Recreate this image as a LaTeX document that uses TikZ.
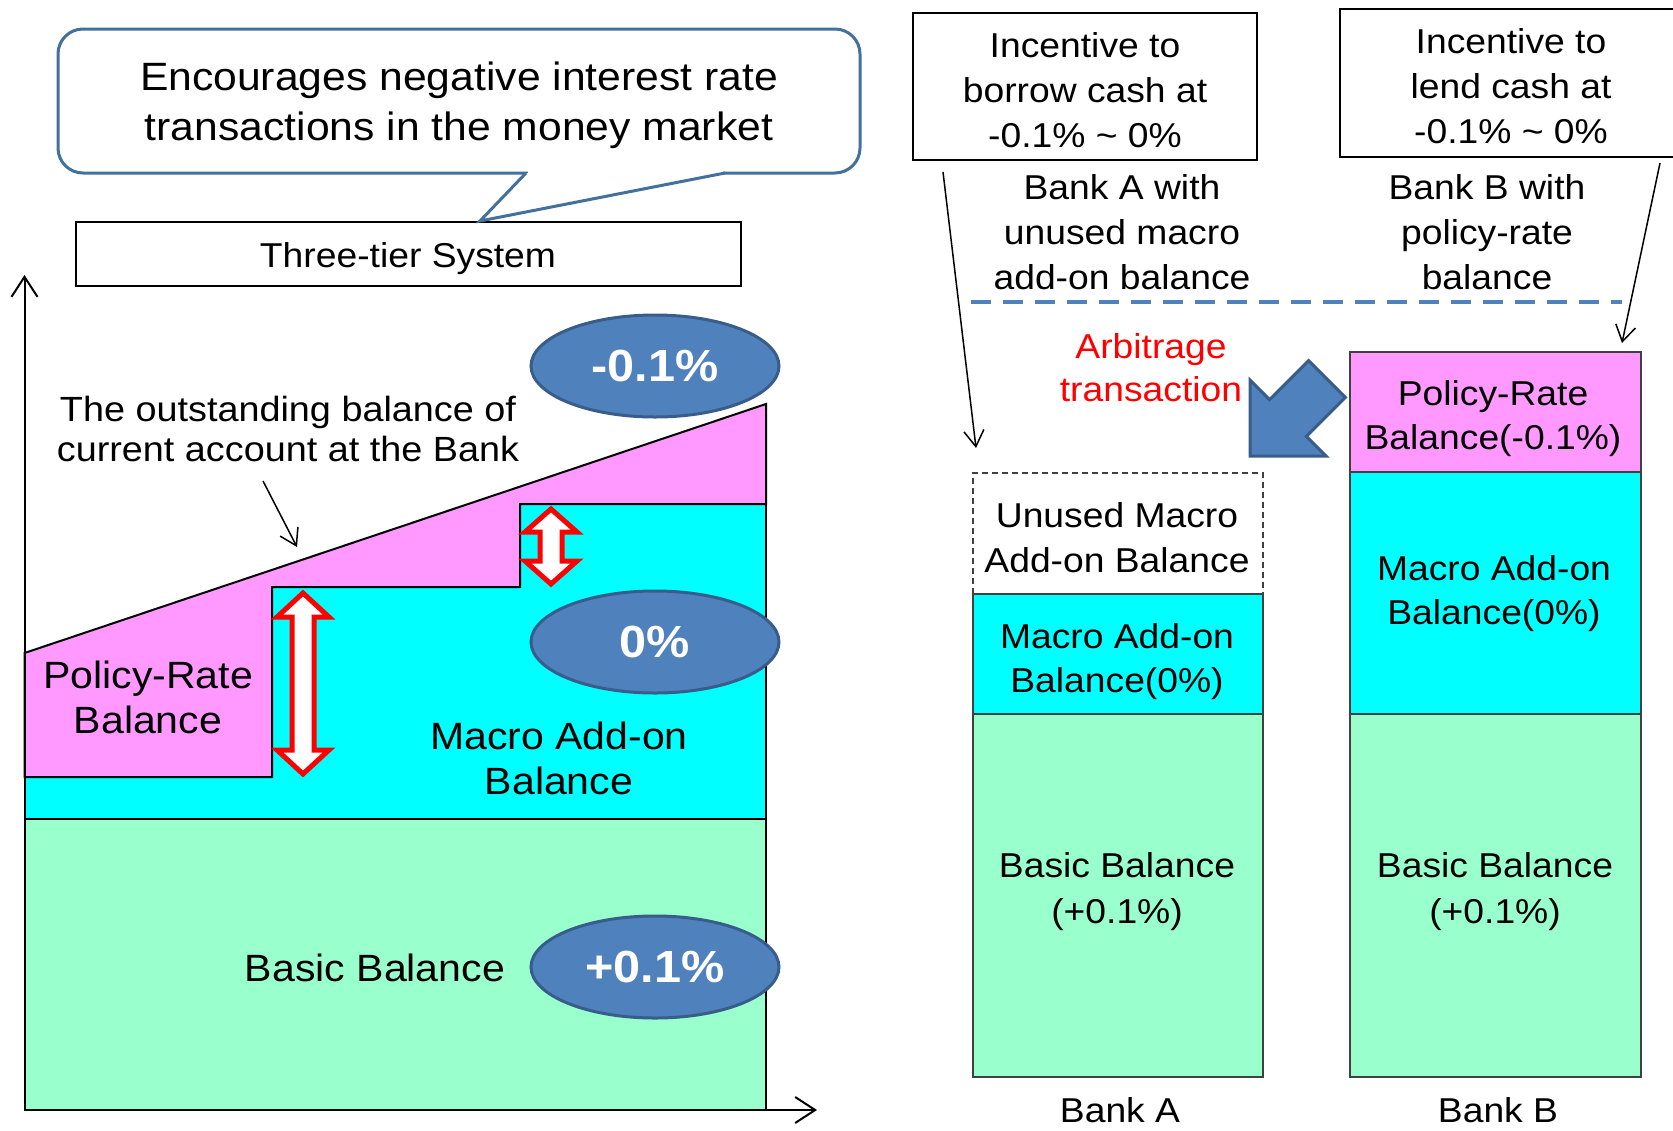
\documentclass[tikz,border=0pt]{standalone}
\usepackage{fontspec}
\setmainfont[FakeStretch=1.08]{Liberation Sans}
\usetikzlibrary{arrows.meta,shapes.geometric}
\definecolor{pinkfill}{HTML}{FF99FF}
\definecolor{cyanfill}{HTML}{00FFFF}
\definecolor{mintfill}{HTML}{99FFCC}
\definecolor{ellfill}{HTML}{4F81BD}
\definecolor{elldraw}{HTML}{385D8A}
\definecolor{callblue}{HTML}{41719C}
\definecolor{stackline}{HTML}{404040}
\newcommand\vdarrow[5]{%
  \draw[dblarrow] (#1,#2) -- ({#1+26},#3) -- ({#1+11},#3) -- ({#1+11},#4) -- ({#1+26},#4) -- (#1,#5)
    -- ({#1-26},#4) -- ({#1-11},#4) -- ({#1-11},#3) -- ({#1-26},#3) -- cycle;}
\begin{document}
\begin{tikzpicture}[x=1pt,y=-1pt,
  txt/.style={align=center, inner sep=0pt},
  fcall/.style={font=\fontsize{39.5}{50}\selectfont},
  fbig/.style={font=\fontsize{38}{45}\selectfont},
  fmid/.style={font=\fontsize{35}{40}\selectfont},
  fsm/.style={font=\fontsize{34.5}{45}\selectfont},
  region/.style={draw=black, line width=2pt, line join=miter},
  stack/.style={draw=stackline, line width=1.5pt},
  ellnode/.style={ellipse, draw=elldraw, fill=ellfill, line width=3pt, minimum width=248pt, minimum height=102pt,
     text=white, font=\fontsize{45}{50}\selectfont\bfseries, inner sep=0pt},
  dblarrow/.style={draw=red, fill=white, line width=5pt, line join=miter},
  axis/.style={draw=black, line width=2pt, -{Straight Barb[length=20pt,width=26pt,line width=2pt]}},
  pointer/.style={draw=black, line width=1.5pt, -{Straight Barb[length=16pt,width=20pt,line width=1.5pt]}},
  boxnode/.style={draw=black, line width=2pt, fill=white, inner sep=0pt}
]
\useasboundingbox (0,0) rectangle (1673,1130);
\clip (0,0) rectangle (1673,1130);

% ---------------- left chart ----------------
\draw[region, fill=mintfill] (24.5,819) rectangle (766,1110);
\draw[region, fill=cyanfill] (24.5,819) -- (24.5,777) -- (272,777) -- (272,587) -- (520,587) -- (520,504) -- (766,504) -- (766,819) -- cycle;
\draw[region, fill=pinkfill] (24.5,653) -- (766,404) -- (766,504) -- (520,504) -- (520,587) -- (272,587) -- (272,777) -- (24.5,777) -- cycle;

\coordinate (origin) at (24.5,1110);
\coordinate (ytop) at (24.5,275);
\coordinate (xend) at (817,1110);
\draw[axis] (origin) -- (ytop);
\draw[axis] (origin) -- (xend);

\vdarrow{303}{593}{617}{750}{774}
\vdarrow{551}{509}{532}{561}{584}

\node[ellnode] (eneg) at (655,366) {-0.1\%};
\node[ellnode] (ezero) at (655,642) {0\%};
\node[ellnode] (epos) at (655,967) {+0.1\%};

\node[txt, fmid] (outst) at (288,429) {The outstanding balance of\\current account at the Bank};
\coordinate (slope) at (297,547);
\draw[pointer] (263,481) -- (slope);

\node[txt, fbig] (polL) at (148,697) {Policy-Rate\\Balance};
\node[txt, fbig] (macL) at (559,758) {Macro Add-on\\Balance};
\node[txt, fbig] (basL) at (375,968) {Basic Balance};

% ---------------- top callout ----------------
\node[boxnode, minimum width=665pt, minimum height=64pt] (tier) at (408.5,254) {};
\node[txt, fsm] (tiert) at (408,259) {Three-tier System};
\node[draw=callblue, line width=3pt, rounded corners=25pt, fill=white, minimum width=802pt, minimum height=144pt] (call) at (459,101) {};
\node[txt, fcall] (callt) at (459,105) {Encourages negative interest rate\\transactions in the money market};
\fill[white] (528,170) rectangle (723,177);
\filldraw[fill=white, draw=callblue, line width=3pt, line join=miter] (526,173) -- (tier.north -| 480,0) -- (725,173);

% ---------------- right side ----------------
\node[boxnode, minimum width=344pt, minimum height=147pt] (incA) at (1085,86.5) {};
\node[txt, fsm] (incAt) at (1085,90) {Incentive to\\borrow cash at\\-0.1\% \textasciitilde{} 0\%};
\node[boxnode, minimum width=360pt, minimum height=148pt] (incB) at (1520,83) {};
\node[txt, fsm] (incBt) at (1511,86) {Incentive to\\lend cash at\\-0.1\% \textasciitilde{} 0\%};

\node[txt, fsm] (bankAw) at (1122,232) {Bank A with\\unused macro\\add-on balance};
\node[txt, fsm] (bankBw) at (1487,232) {Bank B with\\policy-rate\\balance};

\coordinate (dl) at (971,302);
\coordinate (dr) at (1622,302);
\draw[ellfill, line width=4pt, dash pattern=on 20pt off 12pt] (dl) -- (dr);

\node[txt, text=red, font=\fontsize{34.5}{43}\selectfont] (arb) at (1151,368) {Arbitrage\\transaction};

\draw[draw=elldraw, fill=ellfill, line width=3pt, line join=miter]
  (1250,456) -- (1250,380) -- (1269.6,399.6) -- (1308.6,360.6) -- (1345.4,397.4) -- (1306.4,436.4) -- (1326,456) -- cycle;

% Bank A stack
\draw[stack, fill=mintfill] (973,714) rectangle (1263,1077);
\draw[stack, fill=cyanfill] (973,594) rectangle (1263,714);
\draw[stack, dashed, dash pattern=on 6pt off 4pt] (973,594) -- (973,473) -- (1263,473) -- (1263,594);
\node[txt, fsm] (unusedA) at (1117,538) {Unused Macro\\Add-on Balance};
\node[txt, font=\fontsize{34.5}{44}\selectfont] (macA) at (1117,662) {Macro Add-on\\Balance(0\%)};
\node[txt, font=\fontsize{34.5}{46}\selectfont] (basA) at (1117,892) {Basic Balance\\(+0.1\%)};
\node[txt, fsm] (bankA) at (1120,1110) {Bank A};

% Bank B stack
\draw[stack, fill=mintfill] (1350,714) rectangle (1641,1077);
\draw[stack, fill=cyanfill] (1350,472) rectangle (1641,714);
\draw[stack, fill=pinkfill] (1350,352) rectangle (1641,472);
\node[txt, font=\fontsize{34.5}{44}\selectfont] (polB) at (1493,419) {Policy-Rate\\Balance(-0.1\%)};
\node[txt, font=\fontsize{34.5}{44}\selectfont] (macB) at (1494,594) {Macro Add-on\\Balance(0\%)};
\node[txt, font=\fontsize{34.5}{46}\selectfont] (basB) at (1495,892) {Basic Balance\\(+0.1\%)};
\node[txt, fsm] (bankB) at (1498,1110) {Bank B};

% long pointers
\coordinate (pA0) at (943,172);
\coordinate (pA1) at (976,448);
\coordinate (pB0) at (1660,163);
\coordinate (pB1) at (1622,343);
\draw[pointer] (pA0) -- (pA1);
\draw[pointer] (pB0) -- (pB1);
\end{tikzpicture}
\end{document}
